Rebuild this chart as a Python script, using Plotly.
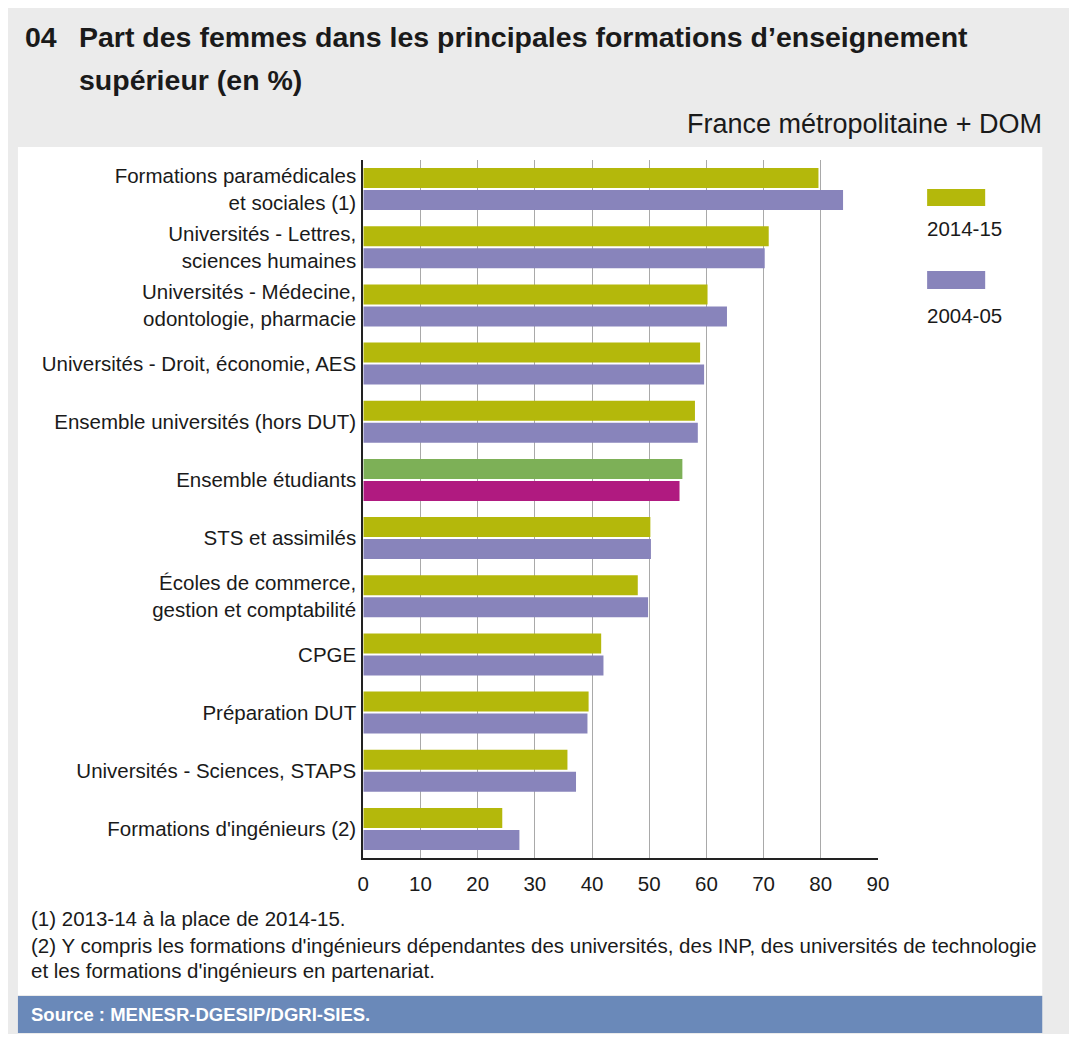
import plotly.graph_objects as go

# Données (part des femmes, en %)
categories = [
    "Formations paramédicales<br>et sociales (1)",
    "Universités - Lettres,<br>sciences humaines",
    "Universités - Médecine,<br>odontologie, pharmacie",
    "Universités - Droit, économie, AES",
    "Ensemble universités (hors DUT)",
    "Ensemble étudiants",
    "STS et assimilés",
    "Écoles de commerce,<br>gestion et comptabilité",
    "CPGE",
    "Préparation DUT",
    "Universités - Sciences, STAPS",
    "Formations d'ingénieurs (2)",
]
part_2014 = [79.6, 70.9, 60.2, 58.9, 58.0, 55.8, 50.2, 48.0, 41.6, 39.4, 35.7, 24.3]
part_2004 = [83.9, 70.2, 63.6, 59.6, 58.5, 55.3, 50.3, 49.8, 42.0, 39.2, 37.2, 27.3]
series_names = ["2014-15", "2004-05"]

# la page html ajoute une marge de 8 px autour de la figure
W, H = 1061, 1026
OFF = 8

def px(x):
    return (x - OFF) / W

def py(y):
    return 1 - (y - OFF) / H

# couleurs : la ligne "Ensemble étudiants" est mise en évidence
olive, violet = "#b4b80b", "#8884bb"
vert, magenta = "#7db057", "#b01a80"
col_2014 = [vert if c == "Ensemble étudiants" else olive for c in categories]
col_2004 = [magenta if c == "Ensemble étudiants" else violet for c in categories]

fig = go.Figure()
fig.add_trace(go.Bar(y=categories, x=part_2014, orientation="h", name=series_names[0],
                     marker=dict(color=col_2014, line=dict(width=0))))
fig.add_trace(go.Bar(y=categories, x=part_2004, orientation="h", name=series_names[1],
                     marker=dict(color=col_2004, line=dict(width=0))))

sans = "Liberation Sans, Arial, sans-serif"
label_font = dict(family=sans, size=20.5, color="#1a1a1a")

fig.update_layout(
    width=W, height=H,
    margin=dict(l=0, r=0, t=0, b=0),
    paper_bgcolor="#ebebeb",
    plot_bgcolor="rgba(0,0,0,0)",
    barmode="group",
    bargap=0.244,
    bargroupgap=0.09,
    showlegend=False,
    xaxis=dict(
        domain=[px(363), px(886)],
        range=[0, 90], dtick=10,
        showgrid=True, gridcolor="#a9a9a9", gridwidth=1,
        zeroline=False,
        showline=True, linecolor="#222222", linewidth=2,
        ticks="", tickfont=label_font, ticklabelstandoff=6,
        fixedrange=True,
    ),
    yaxis=dict(
        domain=[py(858), py(160)],
        autorange="reversed",
        showgrid=False, zeroline=False,
        showline=True, linecolor="#222222", linewidth=2,
        ticks="", tickfont=label_font, ticklabelstandoff=1,
        fixedrange=True,
    ),
)

# fond blanc du cadre et bandeau source
fig.add_shape(type="rect", xref="paper", yref="paper", layer="below",
              x0=px(12), x1=px(1053), y0=py(995), y1=py(147),
              fillcolor="white", line=dict(width=0))
fig.add_shape(type="rect", xref="paper", yref="paper", layer="below",
              x0=px(12), x1=px(1053), y0=py(1033), y1=py(996),
              fillcolor="#6a89b9", line=dict(width=0))

# légende
leg = [(series_names[0], olive, 189, 206, 228), (series_names[1], violet, 271, 289, 315)]
for name, c, y0, y1, yt in leg:
    fig.add_shape(type="rect", xref="paper", yref="paper",
                  x0=px(936), x1=px(995), y0=py(y1), y1=py(y0),
                  fillcolor=c, line=dict(width=0))
    fig.add_annotation(x=px(934), y=py(yt), xref="paper", yref="paper", text=name,
                       showarrow=False, xanchor="left", yanchor="middle", font=label_font)

# titres
title_font = dict(family=sans, size=28.5, color="#1a1a1a")
fig.add_annotation(x=px(17), y=py(37), xref="paper", yref="paper", text="<b>04</b>",
                   showarrow=False, xanchor="left", yanchor="middle", font=title_font)
fig.add_annotation(x=px(72), y=py(37), xref="paper", yref="paper",
                   text="<b>Part des femmes dans les principales formations d’enseignement</b>",
                   showarrow=False, xanchor="left", yanchor="middle", font=title_font)
fig.add_annotation(x=px(72), y=py(80), xref="paper", yref="paper",
                   text="<b>supérieur (en %)</b>",
                   showarrow=False, xanchor="left", yanchor="middle", font=title_font)
fig.add_annotation(x=px(1055), y=py(124), xref="paper", yref="paper",
                   text="France métropolitaine + DOM",
                   showarrow=False, xanchor="right", yanchor="middle",
                   font=dict(family=sans, size=27, color="#1a1a1a"))

# notes
notes = [
    (918, "(1) 2013-14 à la place de 2014-15."),
    (945, "(2) Y compris les formations d'ingénieurs dépendantes des universités, des INP, des universités de technologie"),
    (970, "et les formations d'ingénieurs en partenariat."),
]
for y, t in notes:
    fig.add_annotation(x=px(23), y=py(y), xref="paper", yref="paper", text=t,
                       showarrow=False, xanchor="left", yanchor="middle",
                       font=dict(family=sans, size=20.5, color="#1a1a1a"))

fig.add_annotation(x=px(23), y=py(1014), xref="paper", yref="paper",
                   text="<b>Source : MENESR-DGESIP/DGRI-SIES.</b>",
                   showarrow=False, xanchor="left", yanchor="middle",
                   font=dict(family=sans, size=18.5, color="white"))

fig.write_html("out.html")
